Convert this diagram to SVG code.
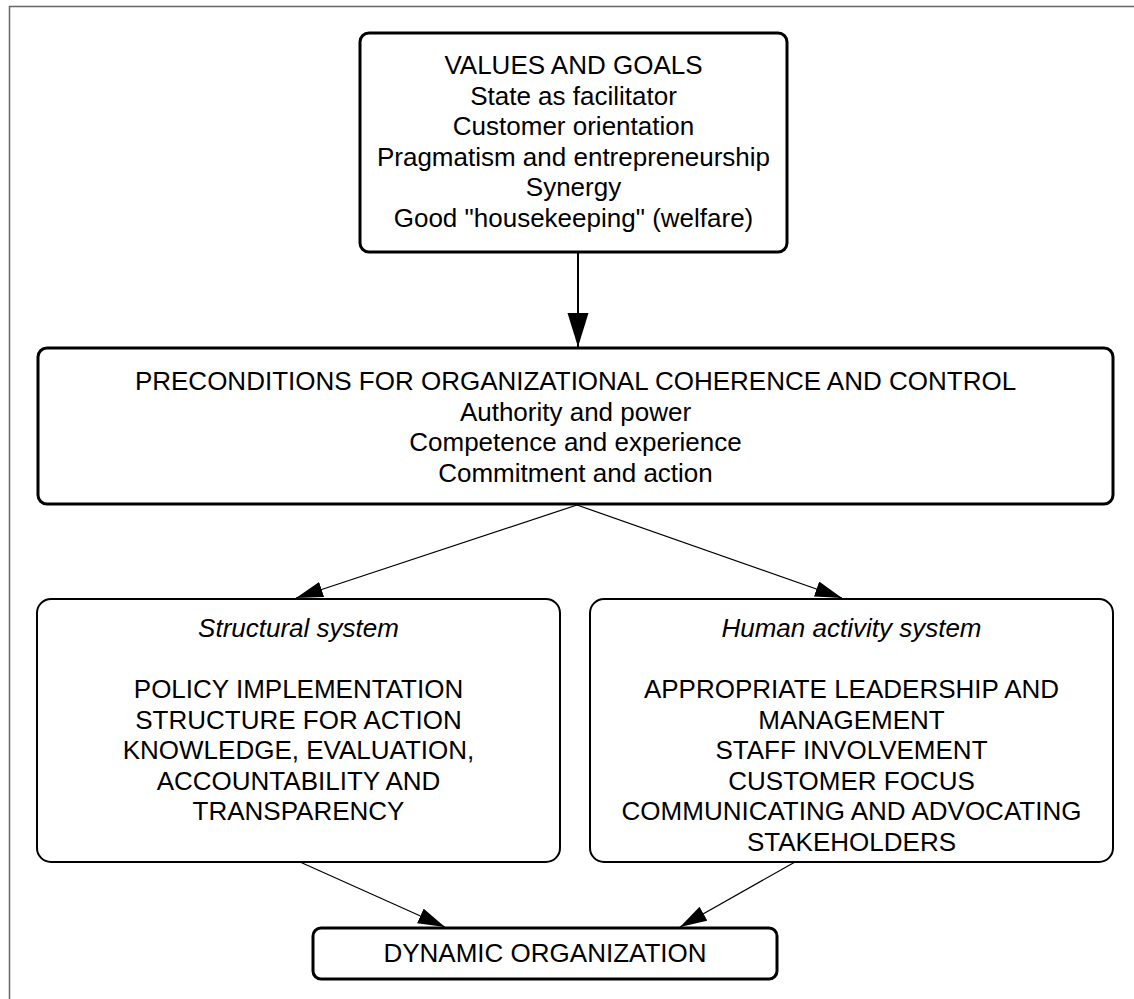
<svg xmlns="http://www.w3.org/2000/svg" width="1134" height="999" viewBox="0 0 1134 999">
  <defs>
    <style>
      .frame { fill: none; stroke: #666; stroke-width: 1.5; }
      .box-strong { fill: #fff; stroke: #000; stroke-width: 3; }
      .box-light { fill: #fff; stroke: #000; stroke-width: 2; }
      .link { fill: none; stroke: #000; stroke-width: 1.2; }
      .link-main { fill: none; stroke: #000; stroke-width: 2; }
      text { font-family: "Liberation Sans", Arial, sans-serif; font-size: 26px; fill: #000; text-anchor: middle; }
      .title { font-style: italic; }
    </style>
    <marker id="head" markerUnits="userSpaceOnUse" markerWidth="30" markerHeight="20" refX="27" refY="8" orient="auto">
      <path d="M0,0 L27,8 L0,16 Z" fill="#000"/>
    </marker>
    <marker id="head-main" markerUnits="userSpaceOnUse" markerWidth="36" markerHeight="24" refX="34" refY="10.5" orient="auto">
      <path d="M0,0 L34,10.5 L0,21 Z" fill="#000"/>
    </marker>
  </defs>

  <!-- page frame -->
  <path class="frame" d="M9.5,999 V6.5 H1134"/>

  <!-- connectors -->
  <g id="connectors">
    <line class="link-main" x1="578" y1="253" x2="578" y2="347" marker-end="url(#head-main)"/>
    <line class="link" x1="577" y1="505" x2="296" y2="598" marker-end="url(#head)"/>
    <line class="link" x1="577" y1="505" x2="842" y2="598" marker-end="url(#head)"/>
    <line class="link" x1="300" y1="862" x2="445" y2="927" marker-end="url(#head)"/>
    <line class="link" x1="795" y1="862" x2="680" y2="927" marker-end="url(#head)"/>
  </g>

  <!-- values and goals -->
  <g id="values">
    <rect class="box-strong" x="360" y="33" width="427" height="219" rx="9"/>
    <text x="573.5" y="74">VALUES AND GOALS</text>
    <text x="573.5" y="104.6">State as facilitator</text>
    <text x="573.5" y="135.2">Customer orientation</text>
    <text x="573.5" y="165.8">Pragmatism and entrepreneurship</text>
    <text x="573.5" y="196.4">Synergy</text>
    <text x="573.5" y="227">Good "housekeeping" (welfare)</text>
  </g>

  <!-- preconditions -->
  <g id="preconditions">
    <rect class="box-strong" x="38" y="348" width="1075" height="156" rx="9"/>
    <text x="575.5" y="390">PRECONDITIONS FOR ORGANIZATIONAL COHERENCE AND CONTROL</text>
    <text x="575.5" y="420.6">Authority and power</text>
    <text x="575.5" y="451.2">Competence and experience</text>
    <text x="575.5" y="481.8">Commitment and action</text>
  </g>

  <!-- structural system -->
  <g id="structural">
    <rect class="box-light" x="37" y="599" width="523" height="263" rx="14"/>
    <text class="title" x="298.5" y="637">Structural system</text>
    <text x="298.5" y="698">POLICY IMPLEMENTATION</text>
    <text x="298.5" y="728.5">STRUCTURE FOR ACTION</text>
    <text x="298.5" y="759">KNOWLEDGE, EVALUATION,</text>
    <text x="298.5" y="789.5">ACCOUNTABILITY AND</text>
    <text x="298.5" y="820">TRANSPARENCY</text>
  </g>

  <!-- human activity system -->
  <g id="human">
    <rect class="box-light" x="590" y="599" width="523" height="263" rx="14"/>
    <text class="title" x="851.5" y="637">Human activity system</text>
    <text x="851.5" y="698">APPROPRIATE LEADERSHIP AND</text>
    <text x="851.5" y="728.5">MANAGEMENT</text>
    <text x="851.5" y="759">STAFF INVOLVEMENT</text>
    <text x="851.5" y="789.5">CUSTOMER FOCUS</text>
    <text x="851.5" y="820">COMMUNICATING AND ADVOCATING</text>
    <text x="851.5" y="850.5">STAKEHOLDERS</text>
  </g>

  <!-- dynamic organization -->
  <g id="dynamic">
    <rect class="box-strong" x="313" y="928" width="464" height="51" rx="8"/>
    <text x="545" y="962">DYNAMIC ORGANIZATION</text>
  </g>
</svg>
